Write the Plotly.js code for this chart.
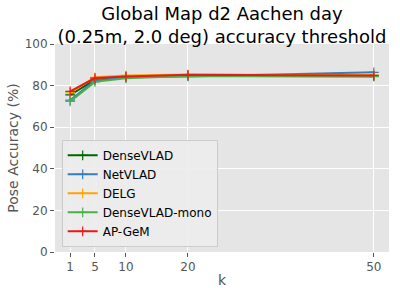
<!DOCTYPE html>
<html><head><meta charset="utf-8">
<script src="https://cdn.plot.ly/plotly-3.0.1.min.js"></script>
<style>body{margin:0;padding:0;}#chart{width:400px;height:288px;}</style>
</head><body><div id="chart"></div>
<script>
const kValues = [1, 5, 10, 20, 50];
const seriesNames = ["DenseVLAD", "NetVLAD", "DELG", "DenseVLAD-mono", "AP-GeM"];
const denseVLAD = [75.5, 82.8, 84.0, 84.8, 84.6];
const netVLAD = [73.0, 82.5, 84.0, 84.4, 86.4];
const delg = [76.5, 84.0, 84.8, 85.3, 85.0];
const denseVLADMono = [72.4, 81.8, 83.5, 84.6, 84.3];
const apGeM = [77.2, 83.6, 84.4, 85.2, 84.9];
const seriesColors = ["#006400", "#377eb8", "#ffa500", "#4daf4a", "#e41a1c"];
const allSeries = [denseVLAD, netVLAD, delg, denseVLADMono, apGeM];

const traces = allSeries.map((vals, i) => ({
  x: kValues, y: vals, name: seriesNames[i], type: "scatter", mode: "lines+markers",
  line: {color: seriesColors[i], width: 2},
  marker: {symbol: "cross-thin", size: 7, line: {color: seriesColors[i], width: 1.2}, color: seriesColors[i]}
}));

const layout = {
  width: 400, height: 288,
  margin: {l: 55, r: 11, t: 44, b: 36},
  paper_bgcolor: "#ffffff", plot_bgcolor: "#e5e5e5",
  font: {family: "DejaVu Sans", color: "#555555", size: 12},
  title: {text: "Global Map d2 Aachen day<br>(0.25m, 2.0 deg) accuracy threshold", font: {size: 18, color: "#000000", family: "DejaVu Sans"},
    xref: "paper", x: 0.5, xanchor: "center", yref: "container", y: 0.932, yanchor: "top"},
  xaxis: {range: [-1.45, 52.45], tickvals: kValues, ticktext: kValues.map(String), showgrid: true, gridcolor: "#ffffff", gridwidth: 1, zeroline: false,
    ticks: "outside", ticklen: 4, tickcolor: "#555555", tickfont: {size: 12, color: "#555555"},
    title: {text: "k", font: {size: 14, color: "#555555"}, standoff: 4}},
  yaxis: {range: [0, 100], tickvals: [0, 20, 40, 60, 80, 100], showgrid: true, gridcolor: "#ffffff", gridwidth: 1, zeroline: false,
    ticks: "outside", ticklen: 4, tickcolor: "#555555", tickfont: {size: 12, color: "#555555"},
    title: {text: "Pose Accuracy (%)", font: {size: 14, color: "#555555"}, standoff: 2}},
  legend: {x: 0.02, y: 0.025, xanchor: "left", yanchor: "bottom", bgcolor: "rgba(236,236,236,0.9)", bordercolor: "#cccccc", borderwidth: 1,
    font: {size: 12, color: "#000000"}, tracegroupgap: 0},
  showlegend: true
};
Plotly.newPlot("chart", traces, layout, {displayModeBar: false, staticPlot: true});
</script></body></html>
